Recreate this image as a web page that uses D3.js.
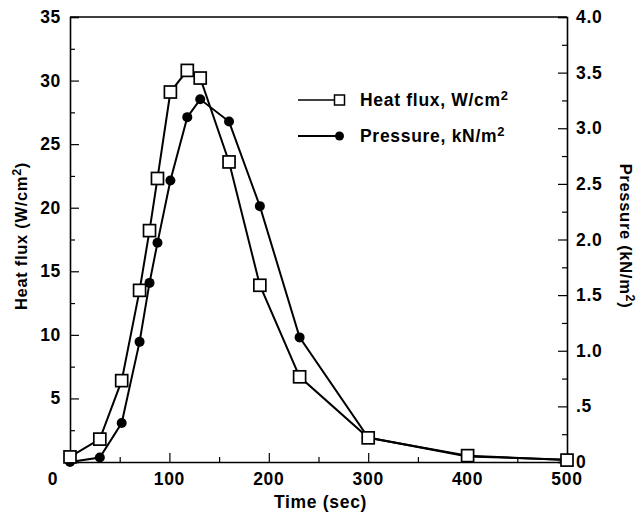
<!DOCTYPE html>
<html lang="en">
<head>
<meta charset="UTF-8"/>
<title>Heat flux and pressure</title>
<script src="https://d3js.org/d3.v7.min.js"></script>
<style>
    body { margin: 0; background: #fff; }
    text { font-family: "Liberation Sans", Arial, sans-serif; font-weight: bold; fill: #000; letter-spacing: 0.7px; }
</style>
</head>
<body>
<script>
    // data
    var times = [0, 30, 52, 70, 80, 88, 101, 118, 131, 160, 191, 231, 300, 400, 500];
    var heatFlux = [0.4, 1.8, 6.4, 13.5, 18.2, 22.3, 29.1, 30.8, 30.2, 23.6, 13.9, 6.7, 1.9, 0.5, 0.15];
    var pressure = [0, 0.04, 0.35, 1.08, 1.61, 1.97, 2.53, 3.10, 3.26, 3.06, 2.30, 1.12, 0.22, 0.05, 0.02];
    var xTicks = [0, 100, 200, 300, 400, 500];
    var leftTicks = [5, 10, 15, 20, 25, 30, 35];
    var rightTicks = [0, 0.5, 1.0, 1.5, 2.0, 2.5, 3.0, 3.5, 4.0];

    var w = 636, h = 518;
    // plot box (window.top is reserved, so use prefixed names)
    var pLeft = 70, pRight = 567, pTop = 17, pBottom = 462;

    var svg = d3.select("body").append("svg")
        .attr("width", w)
        .attr("height", h);

    var x = d3.scaleLinear().domain([0, 500]).range([pLeft, pRight]);
    var yL = d3.scaleLinear().domain([0, 35]).range([pBottom, pTop]);
    var yR = d3.scaleLinear().domain([0, 4]).range([pBottom, pTop]);

    // top frame line
    svg.append("line").attr("x1", pLeft).attr("x2", pRight).attr("y1", pTop).attr("y2", pTop)
        .attr("stroke", "#000").attr("stroke-width", 1.5);

    // minor ticks
    var minorX = d3.range(50, 500, 100);
    var minorL = d3.range(2.5, 35, 5);
    var minorR = d3.range(0.25, 4, 0.5);

    svg.append("g")
        .attr("transform", "translate(0," + pBottom + ")")
        .call(d3.axisTop(x).tickValues(xTicks).tickSize(9).tickFormat(""));
    svg.append("g")
        .attr("transform", "translate(0," + pBottom + ")")
        .call(d3.axisTop(x).tickValues(minorX).tickSize(5).tickFormat(""))
        .select(".domain").remove();

    svg.append("g")
        .attr("transform", "translate(" + pLeft + ",0)")
        .call(d3.axisRight(yL).tickValues(leftTicks).tickSize(9).tickFormat(""));
    svg.append("g")
        .attr("transform", "translate(" + pLeft + ",0)")
        .call(d3.axisRight(yL).tickValues(minorL).tickSize(5).tickFormat(""))
        .select(".domain").remove();

    svg.append("g")
        .attr("transform", "translate(" + pRight + ",0)")
        .call(d3.axisLeft(yR).tickValues(rightTicks).tickSize(9).tickFormat(""));
    svg.append("g")
        .attr("transform", "translate(" + pRight + ",0)")
        .call(d3.axisLeft(yR).tickValues(minorR).tickSize(5).tickFormat(""))
        .select(".domain").remove();

    svg.selectAll(".domain").attr("stroke-width", 1.6);
    svg.selectAll(".tick line").attr("stroke-width", 1.2);

    // tick labels
    svg.selectAll(".xlab").data(xTicks).enter().append("text")
        .attr("x", function(d) { return d === 0 ? x(d) - 17 : x(d); })
        .attr("y", pBottom + 23)
        .attr("text-anchor", "middle")
        .attr("font-size", 17.5)
        .text(function(d) { return d; });

    svg.selectAll(".ylab").data(leftTicks).enter().append("text")
        .attr("x", pLeft - 9)
        .attr("y", function(d) { return yL(d) + 6; })
        .attr("text-anchor", "end")
        .attr("font-size", 17.5)
        .text(function(d) { return d; });

    svg.selectAll(".rlab").data(rightTicks).enter().append("text")
        .attr("x", pRight + 9)
        .attr("y", function(d) { return yR(d) + 6; })
        .attr("font-size", 17.5)
        .text(function(d) { return d === 0 ? "0" : d === 0.5 ? ".5" : d.toFixed(1); });

    // axis titles
    svg.append("text")
        .attr("x", (pLeft + pRight) / 2 + 2)
        .attr("y", 508)
        .attr("text-anchor", "middle")
        .attr("font-size", 17.5)
        .text("Time (sec)");

    var lt = svg.append("text")
        .attr("transform", "translate(27,236) rotate(-90)")
        .attr("text-anchor", "middle")
        .attr("font-size", 16.5);
    lt.append("tspan").text("Heat flux (W/cm");
    lt.append("tspan").attr("dy", -6).attr("font-size", 12.5).text("2");
    lt.append("tspan").attr("dy", 6).text(")");

    var rt = svg.append("text")
        .attr("transform", "translate(620,236) rotate(90)")
        .attr("text-anchor", "middle")
        .attr("font-size", 16.5);
    rt.append("tspan").text("Pressure (kN/m");
    rt.append("tspan").attr("dy", -6).attr("font-size", 12.5).text("2");
    rt.append("tspan").attr("dy", 6).text(")");

    // pressure series
    var pLine = d3.line()
        .x(function(d, i) { return x(times[i]); })
        .y(function(d) { return yR(d); });
    svg.append("path").datum(pressure)
        .attr("d", pLine)
        .attr("fill", "none").attr("stroke", "#000").attr("stroke-width", 2);
    svg.selectAll(".pdot").data(pressure).enter().append("circle")
        .attr("cx", function(d, i) { return x(times[i]); })
        .attr("cy", function(d) { return yR(d); })
        .attr("r", 5)
        .attr("fill", "#000");

    // heat flux series
    var hLine = d3.line()
        .x(function(d, i) { return x(times[i]); })
        .y(function(d) { return yL(d); });
    svg.append("path").datum(heatFlux)
        .attr("d", hLine)
        .attr("fill", "none").attr("stroke", "#000").attr("stroke-width", 2);
    var s = 12;
    svg.selectAll(".hsq").data(heatFlux).enter().append("rect")
        .attr("x", function(d, i) { return x(times[i]) - s / 2; })
        .attr("y", function(d) { return yL(d) - s / 2; })
        .attr("width", s).attr("height", s)
        .attr("fill", "#fff").attr("stroke", "#000").attr("stroke-width", 1.7);

    // legend
    var lg = svg.append("g");
    lg.append("line").attr("x1", 298).attr("x2", 335).attr("y1", 100).attr("y2", 100)
        .attr("stroke", "#000").attr("stroke-width", 1.3);
    lg.append("rect").attr("x", 334.5).attr("y", 95).attr("width", 10).attr("height", 10)
        .attr("fill", "#fff").attr("stroke", "#000").attr("stroke-width", 1.5);
    lg.append("line").attr("x1", 298).attr("x2", 339).attr("y1", 136).attr("y2", 136)
        .attr("stroke", "#000").attr("stroke-width", 2);
    lg.append("circle").attr("cx", 339.5).attr("cy", 136).attr("r", 4.5).attr("fill", "#000");

    var t1 = lg.append("text").attr("x", 360).attr("y", 106).attr("font-size", 17.5);
    t1.append("tspan").text("Heat flux, W/cm");
    t1.append("tspan").attr("dy", -6).attr("font-size", 13).text("2");
    var t2 = lg.append("text").attr("x", 360).attr("y", 142).attr("font-size", 17.5);
    t2.append("tspan").text("Pressure, kN/m");
    t2.append("tspan").attr("dy", -6).attr("font-size", 13).text("2");
</script>
</body>
</html>
